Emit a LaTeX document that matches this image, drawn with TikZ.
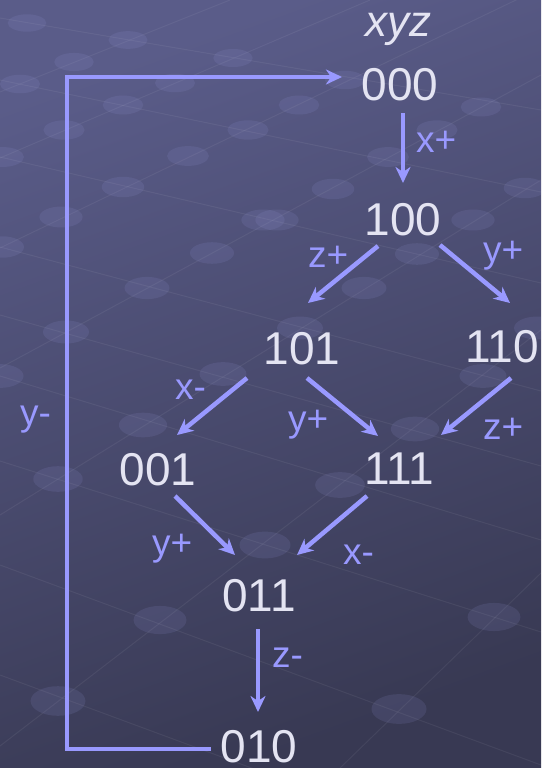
\documentclass[tikz,border=0pt]{standalone}
\usepackage{fontspec}
\setmainfont{Liberation Sans}
\usetikzlibrary{arrows.meta}
\definecolor{bgtop}{HTML}{5A5C89}
\definecolor{bgbot}{HTML}{383953}
\definecolor{arrowc}{HTML}{9999FF}
\definecolor{statec}{HTML}{E4E4F2}
\definecolor{dotc}{HTML}{9A9CE0}
\begin{document}
\begin{tikzpicture}[x=1pt,y=-1pt,
  state/.style={anchor=base, inner sep=0pt, text=statec, font=\fontsize{46}{46}\selectfont},
  lbl/.style={anchor=base west, inner sep=0pt, text=arrowc, font=\fontsize{37}{37}\selectfont},
  arr/.style={draw=arrowc, line width=4.5pt, -{Stealth[length=16pt,width=15pt,inset=5pt]}},
  dotmark/.style={fill=dotc, fill opacity=0.13},
  gridline/.style={draw=white, draw opacity=0.06, line width=1pt}]

\useasboundingbox (0,0) rectangle (541,768);
\shade[top color=bgtop, bottom color=bgbot, shading angle=20] (0,0) rectangle (541,768);

% background grid
\begin{scope}
\clip (0,0) rectangle (541,768);
\foreach \ax/\ay/\bx/\by in {
  0/92/230/0, 0/158/370/0, 0/248/541/-12, 0/368/541/75,
  0/515/541/180, 0/746/541/330, 340/768/541/573,
  0/18/541/110, 0/80/541/192, 0/157/541/283, 0/247/541/391,
  0/315/541/466, 0/376/541/540, 0/461/541/632, 0/565/541/765, 0/675/541/875}
  {\draw[gridline] (\ax,\ay) -- (\bx,\by);}
\foreach \px/\py in {
  27/23, 128/40, 74/62, 20/84, 233/58, 175/83, 123/105, 64/130, 3/157,
  248/130, 188/156, 123/187, 61/217, 2/247, 263/220, 212/253,
  345/80, 299/105, 481/107, 437/130, 388/157, 333/189, 277/220, 525/188,
  473/220, 417/254, 147/288, 66/332, 0/376, 223/374, 143/425, 58/479,
  364/288, 300/328, 537/328, 483/376, 415/429, 340/485,
  265/545, 160/620, 58/701, 494/617, 399/709}
  {\pgfmathsetmacro\rx{19+0.012*\py}
   \pgfmathsetmacro\ry{8.5+0.009*\py}
   \fill[dotmark] (\px,\py) ellipse [x radius=\rx pt, y radius=\ry pt];}
\end{scope}

% states
\node[state, font=\fontsize{44}{44}\selectfont\itshape] (hdr) at (398,37) {xyz};
\node[state] (n000) at (400,100) {000};
\node[state] (n100) at (403,235) {100};
\node[state] (n101) at (302,364) {101};
\node[state] (n110) at (502,362) {110};
\node[state] (n001) at (158,485) {001};
\node[state] (n111) at (399,484) {111};
\node[state] (n011) at (259,611) {011};
\node[state] (n010) at (259,762) {010};

% transitions
\draw[arr] ([shift={(3,13)}]n000.base) -- ([shift={(0,-52)}]n100.base);
\draw[arr] ([shift={(-25,11)}]n100.base) -- ([shift={(6,-61)}]n101.base);
\draw[arr] ([shift={(37,10)}]n100.base) -- ([shift={(8,-59)}]n110.base);
\draw[arr] ([shift={(-55,14)}]n101.base) -- ([shift={(19,-50)}]n001.base);
\draw[arr] ([shift={(5,14)}]n101.base) -- ([shift={(-21,-48)}]n111.base);
\draw[arr] ([shift={(9,16)}]n110.base) -- ([shift={(42,-49)}]n111.base);
\draw[arr] ([shift={(17,11)}]n001.base) -- ([shift={(-24,-56)}]n011.base);
\draw[arr] ([shift={(-32,12)}]n111.base) -- ([shift={(38,-56)}]n011.base);
\draw[arr] ([shift={(-1,18)}]n011.base) -- ([shift={(-1,-50)}]n010.base);
\draw[arr] ([shift={(-48,-13)}]n010.base) -- ++(-144,0) |- ([shift={(-58,-23)}]n000.base);

% labels
\node[lbl] (lx1) at (416,152) {x+};
\node[lbl] (lz1) at (308,267) {z+};
\node[lbl] (ly1) at (483,262) {y+};
\node[lbl] (lx2) at (175,399) {x-};
\node[lbl] (ly2) at (288,431) {y+};
\node[lbl] (lz2) at (483,439) {z+};
\node[lbl] (ly3) at (152,555) {y+};
\node[lbl] (lx3) at (343,564) {x-};
\node[lbl] (lz3) at (272,667) {z-};
\node[lbl] (ly4) at (20,425) {y-};
\end{tikzpicture}
\end{document}
